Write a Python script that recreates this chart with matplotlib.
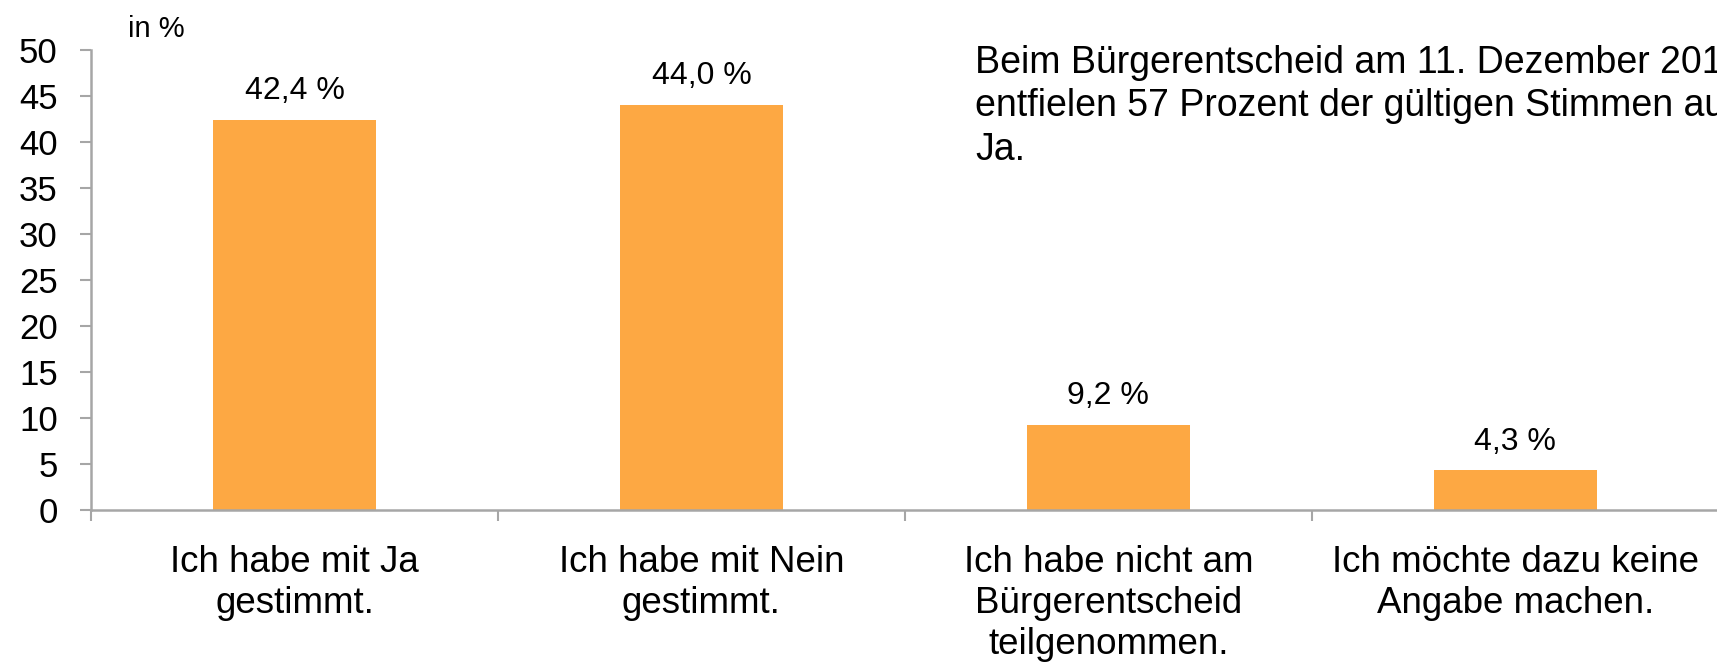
import numpy as np
import matplotlib.pyplot as plt

plt.rcParams['font.family'] = ['Liberation Sans', 'DejaVu Sans']

# Data
categories = ["Ich habe mit Ja\ngestimmt.",
              "Ich habe mit Nein\ngestimmt.",
              "Ich habe nicht am\nBürgerentscheid\nteilgenommen.",
              "Ich möchte dazu keine\nAngabe machen."]
values = [42.4, 44.0, 9.2, 4.3]
value_labels = ["42,4 %", "44,0 %", "9,2 %", "4,3 %"]
y_ticks = list(range(0, 55, 5))
note = ("Beim Bürgerentscheid am 11. Dezember 2016\n"
        "entfielen 57 Prozent der gültigen Stimmen auf\n"
        "Ja.")

bar_color = "#FDA843"
axis_color = "#A6A6A6"

fig = plt.figure(figsize=(17.17, 6.64), dpi=100)
ax = fig.add_axes([0.053, 0.232, 0.948, 0.6928])

x = np.arange(len(categories))
ax.bar(x, values, width=0.4, color=bar_color, zorder=2)

for xi, v, lab in zip(x, values, value_labels):
    ax.annotate(lab, (xi, v), xytext=(0, 15), textcoords="offset points",
                ha="center", va="baseline", fontsize=23)

ax.set_xlim(-0.5, len(categories) - 0.5)
ax.set_ylim(0, 50)
ax.set_yticks(y_ticks)
ax.tick_params(axis="y", labelsize=25, length=8, color=axis_color, pad=16, width=1.5)

ax.set_xticks(x)
ax.set_xticklabels(categories, fontsize=26.5, linespacing=1.23)
ax.tick_params(axis="x", which="major", length=0, pad=25)
ax.set_xticks(np.arange(len(categories) + 1) - 0.5, minor=True)
ax.tick_params(axis="x", which="minor", length=8, color=axis_color, width=1.5)

for s in ["top", "right"]:
    ax.spines[s].set_visible(False)
for s in ["left", "bottom"]:
    ax.spines[s].set_color(axis_color)
    ax.spines[s].set_linewidth(1.8)

fig.text(0.0745, 0.978, "in %", fontsize=21, ha="left", va="top")
# the note runs past the right edge in the original, so it is clipped there too
fig.text(0.568, 0.932, note, fontsize=27, ha="left", va="top", linespacing=1.26)

fig.savefig("out.png", dpi=100)
